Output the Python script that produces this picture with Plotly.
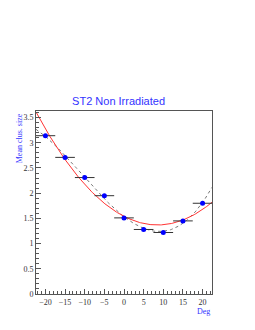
import numpy as np
import plotly.graph_objects as go

# Data
deg = [-20, -15, -10, -5, 0, 5, 10, 15, 20]
clus = [3.14, 2.71, 2.31, 1.95, 1.51, 1.28, 1.22, 1.45, 1.80]
deg_err = [2.5] * 9
y_ticks = [0, 0.5, 1, 1.5, 2, 2.5, 3, 3.5]
x_ticks = [-20, -15, -10, -5, 0, 5, 10, 15, 20]

xs = np.linspace(-22.4, 22.4, 200)
c2 = np.polyfit(deg, clus, 2)
c4 = np.polyfit(deg, clus, 4)

fig = go.Figure()
fig.add_trace(go.Scatter(x=xs, y=np.polyval(c4, xs), mode="lines",
                         line=dict(color="#777777", width=1, dash="dot"),
                         hoverinfo="skip"))
fig.add_trace(go.Scatter(x=xs, y=np.polyval(c2, xs), mode="lines",
                         line=dict(color="#ff3333", width=1),
                         hoverinfo="skip"))
fig.add_trace(go.Scatter(x=deg, y=clus, mode="markers",
                         marker=dict(color="#0000ff", size=5),
                         error_x=dict(type="data", array=deg_err, color="#333333",
                                      thickness=1, width=0)))

axis_common = dict(showgrid=False, zeroline=False, showline=True, linecolor="#555555",
                   linewidth=1, mirror=True, ticks="inside", tickcolor="#555555",
                   automargin=False,
                   tickfont=dict(family="Liberation Serif", size=8, color="#333333"))
fig.update_xaxes(range=[-22.4, 22.4], tickvals=x_ticks, ticklen=5,
                 minor=dict(dtick=1, ticks="inside", ticklen=3, tickcolor="#555555"),
                 **axis_common)
fig.update_yaxes(range=[0, 3.63], tickvals=y_ticks, ticklen=5,
                 minor=dict(dtick=0.1, ticks="inside", ticklen=3, tickcolor="#555555"),
                 **axis_common)

fig.update_layout(
    width=255, height=330, showlegend=False,
    paper_bgcolor="white", plot_bgcolor="white",
    margin=dict(l=36, r=43, t=111, b=36),
    title=dict(text="ST2 Non Irradiated", x=0.465, xanchor="center", y=1 - 101/330,
               yanchor="middle", font=dict(family="Liberation Sans", size=11, color="#3333ff")),
    annotations=[
        dict(text="Mean clus. size", xref="paper", yref="paper", x=-0.095, y=1.0,
             xanchor="center", yanchor="top", textangle=-90, showarrow=False,
             font=dict(family="Liberation Serif", size=8, color="#3333ff")),
        dict(text="Deg", xref="paper", yref="paper", x=1.0, y=-0.06,
             xanchor="right", yanchor="top", showarrow=False,
             font=dict(family="Liberation Serif", size=8, color="#3333ff")),
    ],
)
fig.write_html("out.html", config={"displayModeBar": False},
               post_script="document.body.style.margin='0';")
